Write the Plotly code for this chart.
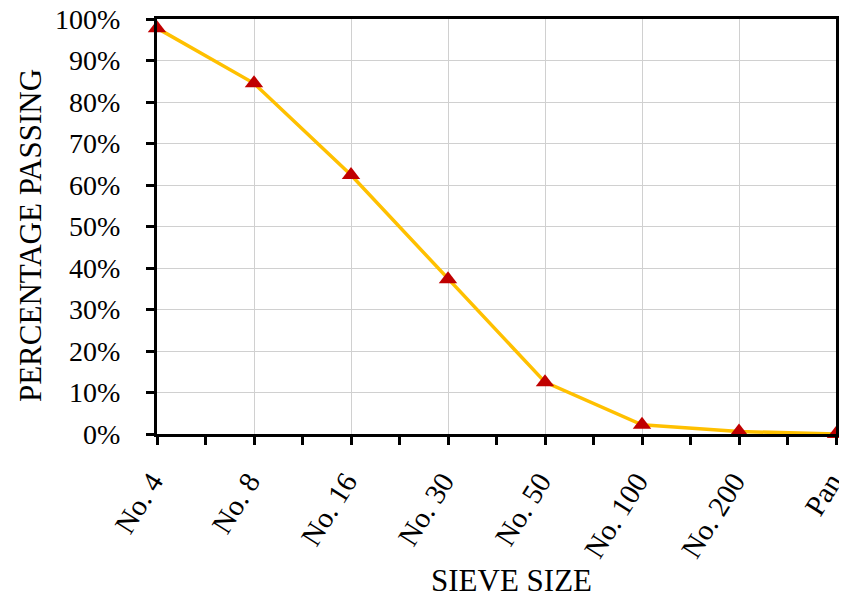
import plotly.graph_objects as go

categories = ["No. 4", "No. 8", "No. 16", "No. 30", "No. 50", "No. 100", "No. 200", "Pan"]
passing = [0.978, 0.845, 0.624, 0.373, 0.125, 0.022, 0.006, 0.0]
y_ticks = [0, 0.1, 0.2, 0.3, 0.4, 0.5, 0.6, 0.7, 0.8, 0.9, 1.0]

x_idx = list(range(len(categories)))

fig = go.Figure()
fig.add_trace(go.Scatter(
    x=x_idx, y=passing, mode="lines+markers",
    line=dict(color="#FFC000", width=3.5),
    marker=dict(symbol="triangle-up", size=16, color="#C00000"),
    cliponaxis=False, showlegend=False,
))

font = "Liberation Serif, Times New Roman, serif"
# page body has an 8px margin; figure is sized/positioned to compensate
fig.update_layout(
    width=839, height=592,
    margin=dict(l=149, r=11, t=11, b=166),
    paper_bgcolor="white", plot_bgcolor="white",
    font=dict(family=font, size=29, color="black"),
    xaxis=dict(
        range=[0, len(categories) - 1], automargin=False, ticklabeloverflow="allow",
        tickmode="array", tickvals=x_idx, ticktext=categories,
        tickangle=-58, ticks="outside", ticklen=8, tickwidth=3, tickcolor="black",
        ticklabelstandoff=8, ticklabelshift=-5,
        showline=True, linecolor="black", linewidth=3, mirror=True,
        showgrid=True, gridcolor="#D0D0D0", gridwidth=1, zeroline=False,
        minor=dict(tickvals=[i + 0.5 for i in x_idx[:-1]], ticks="outside", ticklen=8, tickwidth=3, tickcolor="black", showgrid=False),
        tickfont=dict(size=29),
    ),
    yaxis=dict(
        range=[0, 1], automargin=False, ticklabeloverflow="allow", tickmode="array", tickvals=y_ticks, tickformat=".0%",
        ticks="outside", ticklen=8, tickwidth=3, tickcolor="black", ticklabelstandoff=20,
        showline=True, linecolor="black", linewidth=3, mirror=True,
        showgrid=True, gridcolor="#D0D0D0", gridwidth=1, zeroline=False,
        tickfont=dict(size=28),
    ),
    annotations=[
        dict(text="SIEVE SIZE", xref="paper", yref="paper", x=0.5214, y=-0.352,
             xanchor="center", yanchor="middle", showarrow=False, font=dict(size=31)),
        dict(text="PERCENTAGE PASSING", xref="paper", yref="paper", x=-0.187, y=0.477,
             xanchor="center", yanchor="middle", textangle=-90, showarrow=False, font=dict(size=31)),
    ],
)

fig.write_html("out.html")
